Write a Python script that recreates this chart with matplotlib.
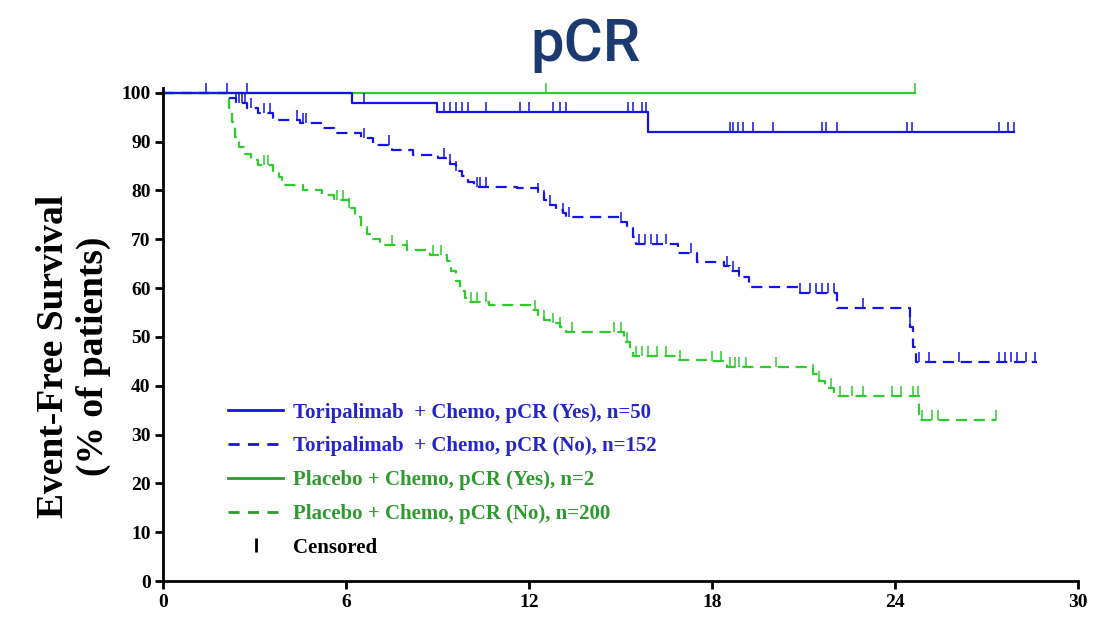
import numpy as np
import matplotlib
matplotlib.use("Agg")
import matplotlib.pyplot as plt
from matplotlib.lines import Line2D
from matplotlib.path import Path

# ---------------- data ----------------
# Toripalimab + Chemo, pCR (Yes), n=50
tori_yes_t = [0, 6.2, 8.98, 15.9]
tori_yes_s = [100, 98.0, 96.0, 91.9]
tori_yes_end = 27.9
tori_yes_cens = [1.4, 2.1, 2.75, 6.6, 9.2, 9.4, 9.6, 9.8, 10.0, 10.6, 11.7, 12.0,
                 12.8, 13.0, 13.2, 15.25, 15.4, 15.7, 15.85, 18.6, 18.7, 18.85,
                 19.0, 19.35, 20.0, 21.6, 21.75, 22.1, 24.4, 24.55, 27.4, 27.7, 27.9]

# Toripalimab + Chemo, pCR (No), n=152
tori_no_t = [0, 2.2, 2.4, 2.75, 3.1, 3.6, 4.5, 5.2, 5.6, 6.5, 6.9, 7.5, 8.2, 9.0,
             9.4, 9.6, 9.8, 10.0, 10.2, 11.6, 12.3, 12.5, 12.7, 12.9, 13.1, 13.2,
             15.0, 15.2, 15.4, 15.5, 16.9, 17.5, 18.4, 18.6, 18.9, 19.2, 20.9,
             22.1, 24.5, 24.6, 24.7]
tori_no_s = [100, 99, 98, 97, 95.9, 94.5, 93.8, 92.8, 91.8, 90.8, 89.3, 88.3, 87.3, 86.7,
             85.5, 84.0, 83.0, 81.8, 80.8, 80.5, 79.5, 78.0, 77.0, 76.0, 75.4, 74.6,
             73.5, 72.3, 70.5, 69.0, 67.2, 65.4, 64.5, 63.5, 62.3, 60.3, 59.0,
             56.0, 52.0, 48.0, 44.9]
tori_no_end = 28.65
tori_no_cens = [2.4, 2.5, 2.6, 2.7, 2.9, 3.3, 3.5, 4.4, 4.6, 4.7, 6.6, 7.4, 9.2, 9.4,
                9.6, 10.3, 10.4, 10.6, 12.3, 12.5, 12.7, 13.1, 13.3, 15.0, 15.6,
                15.8, 16.0, 16.2, 16.5, 17.3, 18.5, 18.7, 18.9, 20.9, 21.2, 21.4,
                21.6, 21.8, 22.0, 22.95, 24.5, 24.8, 25.1, 26.1, 27.4, 27.6, 27.8,
                28.0, 28.3, 28.6]

# Placebo + Chemo, pCR (Yes), n=2
plac_yes_t = [0]
plac_yes_s = [100]
plac_yes_end = 24.66
plac_yes_cens = [12.56, 24.66]

# Placebo + Chemo, pCR (No), n=200
plac_no_t = [0, 2.15, 2.25, 2.35, 2.5, 2.7, 2.9, 3.1, 3.6, 3.8, 3.9, 4.6, 5.2, 5.6,
             6.1, 6.3, 6.5, 6.7, 6.9, 7.1, 8.0, 8.75, 9.3, 9.45, 9.6, 9.75, 9.9,
             10.0, 10.7, 12.1, 12.3, 12.5, 12.7, 13.0, 13.2, 15.1, 15.3, 15.4,
             16.9, 18.0, 18.5, 21.3, 21.5, 21.7, 22.0, 24.8]
plac_no_s = [100, 97, 94, 91, 89, 87.5, 86.2, 85.2, 84.0, 82.8, 81.1, 80.1, 79.1, 78.1,
             76.5, 74.5, 72.5, 71.0, 70.0, 68.9, 67.8, 66.8, 65.5, 63.5, 61.5, 59.5, 58.0,
             57.2, 56.6, 55.5, 54.5, 53.5, 52.8, 52.0, 51.0, 49.0, 47.5, 46.0,
             45.3, 45.0, 43.9, 42.5, 41.0, 39.5, 37.8, 33.0]
plac_no_end = 27.3
plac_no_cens = [3.3, 3.45, 5.7, 5.9, 6.1, 7.5, 8.0, 8.85, 9.1, 10.1, 10.3, 10.6, 12.2,
                12.5, 12.8, 13.0, 13.4, 14.8, 15.0, 15.2, 15.5, 15.7, 15.9, 16.2,
                16.5, 16.95, 18.0, 18.3, 18.6, 18.75, 18.9, 19.1, 20.1, 21.3, 21.5,
                21.9, 22.2, 22.6, 22.95, 23.9, 24.2, 24.6, 24.75, 24.9, 25.2, 25.4, 27.3]

x_ticks = [0, 6, 12, 18, 24, 30]
y_ticks = list(range(0, 101, 10))

labels = ["Toripalimab  + Chemo, pCR (Yes), n=50",
          "Toripalimab  + Chemo, pCR (No), n=152",
          "Placebo + Chemo, pCR (Yes), n=2",
          "Placebo + Chemo, pCR (No), n=200",
          "Censored"]

# ---------------- style ----------------
BLUE = "#1414e6"
GREEN = "#2ecc2e"
GREEN_TXT = "#2f9a2f"
BLUE_TXT = "#2626c8"
SERIF = "Liberation Serif"

fig = plt.figure(figsize=(10.94, 6.2), dpi=100)
ax = fig.add_axes([0.149, 0.0629, 0.8364, 0.7952])

tick_marker = Path([(0, 0), (0, 1)], [Path.MOVETO, Path.LINETO])


def km(ax, t, s, end, cens, color, ls):
    tt = list(t) + [end]
    ss = list(s) + [s[-1]]
    line, = ax.step(tt, ss, where="post", color=color, lw=1.6, linestyle=ls)
    if ls == "--":
        line.set_dashes((5, 3))
    ta = np.array(t)
    sa = np.array(s)
    c = np.array(cens)
    idx = np.searchsorted(ta, c, side="right") - 1
    ax.plot(c, sa[idx], linestyle="none", marker=tick_marker, markersize=14,
            markeredgewidth=1.1, color=color, clip_on=False)


km(ax, plac_yes_t, plac_yes_s, plac_yes_end, plac_yes_cens, GREEN, "-")
km(ax, tori_yes_t, tori_yes_s, tori_yes_end, tori_yes_cens, BLUE, "-")
km(ax, plac_no_t, plac_no_s, plac_no_end, plac_no_cens, GREEN, "--")
km(ax, tori_no_t, tori_no_s, tori_no_end, tori_no_cens, BLUE, "--")

ax.set_xlim(0, 30)
ax.set_ylim(0, 101)
ax.set_xticks(x_ticks)
ax.set_yticks(y_ticks)
for sp in ["top", "right"]:
    ax.spines[sp].set_visible(False)
for sp in ["left", "bottom"]:
    ax.spines[sp].set_linewidth(2.0)
    ax.spines[sp].set_color("black")
ax.tick_params(axis="both", direction="out", length=6, width=2, colors="black",
               pad=3)
for lab in ax.get_xticklabels() + ax.get_yticklabels():
    lab.set_fontfamily(SERIF)
    lab.set_fontweight("bold")
    lab.set_fontsize(14)

# legend
h1 = Line2D([], [], color=BLUE, lw=2.0, ls="-")
h2 = Line2D([], [], color=BLUE, lw=2.0, ls=(0, (4, 3)))
h3 = Line2D([], [], color="#2a9a2a", lw=2.0, ls="-")
h4 = Line2D([], [], color="#2a9a2a", lw=2.0, ls=(0, (4, 3)))
h5 = Line2D([], [], color="black", lw=0, marker="|", markersize=10, markeredgewidth=2)
leg = ax.legend([h1, h2, h3, h4, h5], labels, loc="upper left",
                bbox_to_anchor=(0.051, 0.400), frameon=False,
                prop={"family": SERIF, "weight": "bold", "size": 15},
                handlelength=2.6, handletextpad=0.5, labelspacing=0.66,
                labelcolor=[BLUE_TXT, BLUE_TXT, GREEN_TXT, GREEN_TXT, "black"])

# y label (two lines)
fig.text(0.067, 0.425, "Event-Free Survival\n(% of patients)", rotation=90,
         ha="center", va="center", family=SERIF, weight="bold", fontsize=27,
         linespacing=1.2, multialignment="center")

# title
fig.text(0.535, 0.928, "pCR", ha="center", va="center", family="Roboto",
         fontsize=43, color="#1d3a70", weight="medium")

fig.savefig("out.png", dpi=100)
